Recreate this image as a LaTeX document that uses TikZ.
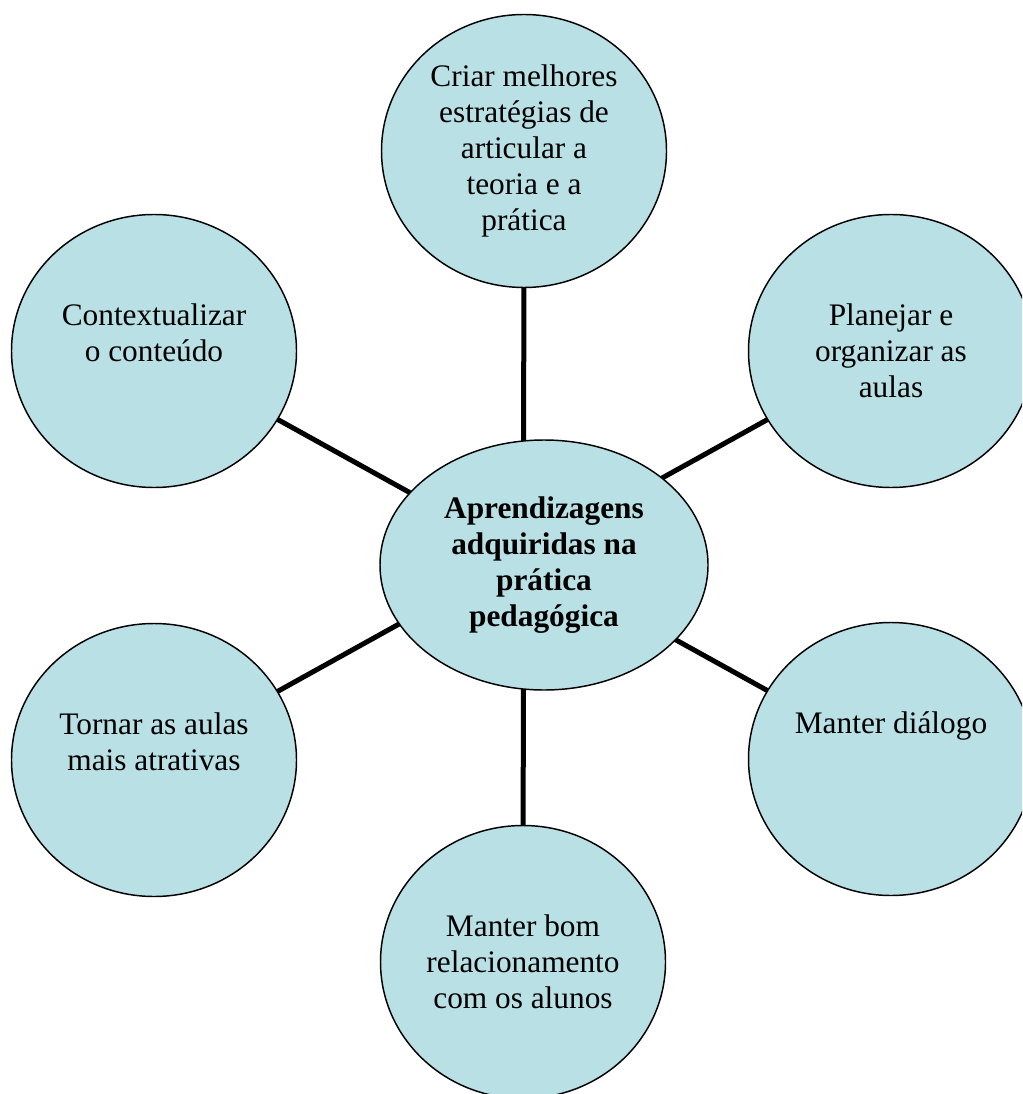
\documentclass[tikz,border=0pt]{standalone}
\usepackage{fontspec}
\setmainfont{Liberation Serif}
\usetikzlibrary{shapes.geometric,backgrounds}
\definecolor{bubble}{HTML}{B9E0E4}
\begin{document}
\begin{tikzpicture}[x=0.75pt,y=-0.75pt,
  leaf/.style={ellipse,draw=black,line width=1.1pt,fill=bubble,
    minimum width=213.75pt,minimum height=204.75pt,inner sep=0pt,
    align=center,font=\fontsize{23.5}{27}\selectfont},
  hub/.style={leaf,minimum width=246pt,minimum height=187.5pt,
    font=\fontsize{23.5}{27}\selectfont\bfseries},
  link/.style={line width=3.75pt}]
\useasboundingbox (0,0) rectangle (1022,1094);
\clip (0,0) rectangle (1022,1094);
\node[hub]  (cen) at (544,565) {Aprendizagens\\adquiridas na\\prática\\pedagógica};
\node[leaf] (top) at (524,151) {Criar melhores\\estratégias de\\articular a\\teoria e a\\prática};
\node[leaf] (ur)  at (891,351) {Planejar e\\organizar as\\aulas};
\node[leaf] (ul)  at (154,351) {Contextualizar\\o conteúdo\\\phantom{o}};
\node[leaf] (ll)  at (154,760) {Tornar as aulas\\mais atrativas\\\phantom{o}};
\node[leaf] (lr)  at (891,759) {Manter diálogo\\\phantom{o}\\\phantom{o}};
\node[leaf] (bot) at (523,962) {Manter bom\\relacionamento\\com os alunos};
\begin{scope}[on background layer]
  \draw[link] (top.center) -- (bot.center);
  \draw[link] (ul.center) -- (lr.center);
  \draw[link] (ll.center) -- (ur.center);
\end{scope}
\end{tikzpicture}
\end{document}
